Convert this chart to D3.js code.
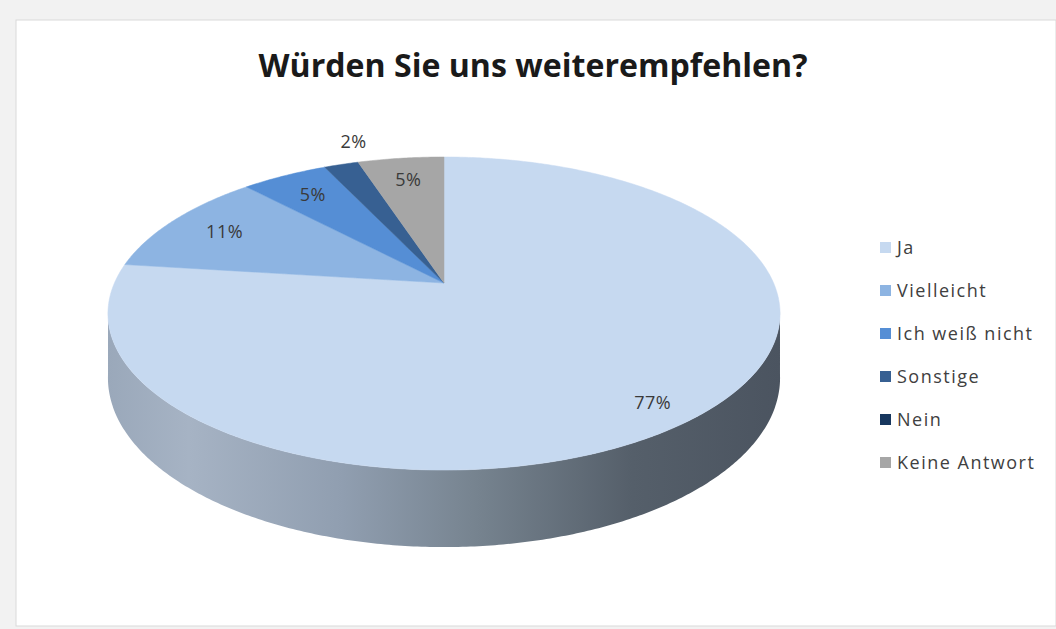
<!DOCTYPE html>
<html>
<head>
<meta charset="utf-8">
<script src="https://cdn.jsdelivr.net/npm/d3@7"></script>
<style>
  body { margin: 0; background: #f2f2f2; }
  svg { display: block; }
</style>
</head>
<body>
<svg id="chart" width="1056" height="629"></svg>
<script>
// data
var categories = ["Ja", "Vielleicht", "Ich weiß nicht", "Sonstige", "Nein", "Keine Antwort"];
var values = [77, 11, 5, 2, 0, 5];
var labels = ["77%", "11%", "5%", "2%", "", "5%"];
var colors = ["#c6d9f0", "#8db4e2", "#558ed5", "#376092", "#17375e", "#a6a6a6"];

var svg = d3.select("#chart");

// frame
svg.append("rect").attr("x", 0).attr("y", 0).attr("width", 1056).attr("height", 629).attr("fill", "#f2f2f2");
svg.append("rect").attr("x", 16).attr("y", 20).attr("width", 1040).attr("height", 606)
	.attr("fill", "#ffffff").attr("stroke", "#d9d9d9").attr("stroke-width", 1);

svg.append("text")
	.attr("x", 533)
	.attr("y", 77)
	.attr("text-anchor", "middle")
	.attr("textLength", 549)
	.attr("lengthAdjust", "spacingAndGlyphs")
	.style("font-family", "'Open Sans', sans-serif")
	.style("font-weight", "700")
	.style("font-size", "32px")
	.style("fill", "#1a1a1a")
	.text("Würden Sie uns weiterempfehlen?");

// 3d pie projection (tilted disk with a bit of perspective)
var cx = 444, cy = 283, A = 329.6, B = 150.6, k = 0.195, depth = 62;

function proj(a, r, h) {
	var u = r * Math.sin(a), v = -r * Math.cos(a);
	var d = 1 - k * v;
	return [cx + A * u / d, cy + B * v / d + (h || 0) / d];
}

var pie = d3.pie().sort(null).value(d => d);
var arcs = pie(values);

function arcPoints(a0, a1, h) {
	var n = Math.max(2, Math.ceil((a1 - a0) / 0.01));
	var pts = [];
	for (var i = 0; i <= n; i++) pts.push(proj(a0 + (a1 - a0) * i / n, 1, h));
	return pts;
}

var line = d3.line();

// side wall gradient
var defs = svg.append("defs");
var grad = defs.append("linearGradient").attr("id", "side")
	.attr("gradientUnits", "userSpaceOnUse")
	.attr("x1", cx - 336).attr("x2", cx + 336).attr("y1", 0).attr("y2", 0);
[[0, "#9aa8ba"], [0.12, "#a6b3c4"], [0.35, "#909eb0"], [0.55, "#76838f"], [0.78, "#555f6a"], [1, "#4b5460"]]
	.forEach(s => grad.append("stop").attr("offset", s[0]).attr("stop-color", s[1]));

// front part of the rim: between the two silhouette tangent points
var frontA0 = Math.acos(-k) - 0.02, frontA1 = 2 * Math.PI - Math.acos(-k) + 0.02;

arcs.forEach(function(p) {
	var a0 = Math.max(p.startAngle, frontA0), a1 = Math.min(p.endAngle, frontA1);
	if (a1 <= a0) return;
	var top = arcPoints(a0, a1, 0);
	var bot = arcPoints(a0, a1, depth).reverse();
	svg.append("path")
		.attr("class", "side")
		.attr("d", line(top.concat(bot)) + "Z")
		.attr("fill", "url(#side)");
});

// top surface
svg.selectAll(".slice")
	.data(arcs.filter(p => p.endAngle > p.startAngle))
	.enter().append("path")
	.attr("class", "slice")
	.attr("d", p => line([[cx, cy]].concat(arcPoints(p.startAngle, p.endAngle, 0))) + "Z")
	.attr("fill", p => colors[p.index])
	.attr("stroke", p => colors[p.index])
	.attr("stroke-width", 0.5);

// percentage labels
svg.selectAll(".labels")
	.data(arcs.filter(p => labels[p.index] !== ""))
	.enter().append("text")
	.attr("class", "labels")
	.attr("transform", function(p) {
		var mid = (p.startAngle + p.endAngle) / 2, r = 0.8;
		if (p.data > 50) { r = 0.88; mid += 0.05; }
		if (p.data < 3) { r = 1.2; mid = p.endAngle + 0.03; }
		var pt = proj(mid, r, 0);
		return "translate(" + pt[0] + "," + pt[1] + ")";
	})
	.attr("text-anchor", "middle")
	.attr("dy", "0.35em")
	.style("font-family", "'Open Sans', sans-serif")
	.style("font-size", "18px")
	.style("letter-spacing", "0.5px")
	.style("fill", "#3a3a3a")
	.text(p => labels[p.index]);

// legend
var legend = svg.selectAll(".legend")
	.data(categories)
	.enter().append("g")
	.attr("class", "legend")
	.attr("transform", (d, i) => "translate(880," + (247.5 + i * 43) + ")");

legend.append("rect")
	.attr("x", 0).attr("y", -5.5)
	.attr("width", 11).attr("height", 11)
	.attr("fill", (d, i) => colors[i]);

legend.append("text")
	.attr("x", 17)
	.attr("dy", "0.36em")
	.style("font-family", "'Open Sans', sans-serif")
	.style("font-size", "18px")
	.style("letter-spacing", "1.5px")
	.style("fill", "#404040")
	.text(d => d);
</script>
</body>
</html>
